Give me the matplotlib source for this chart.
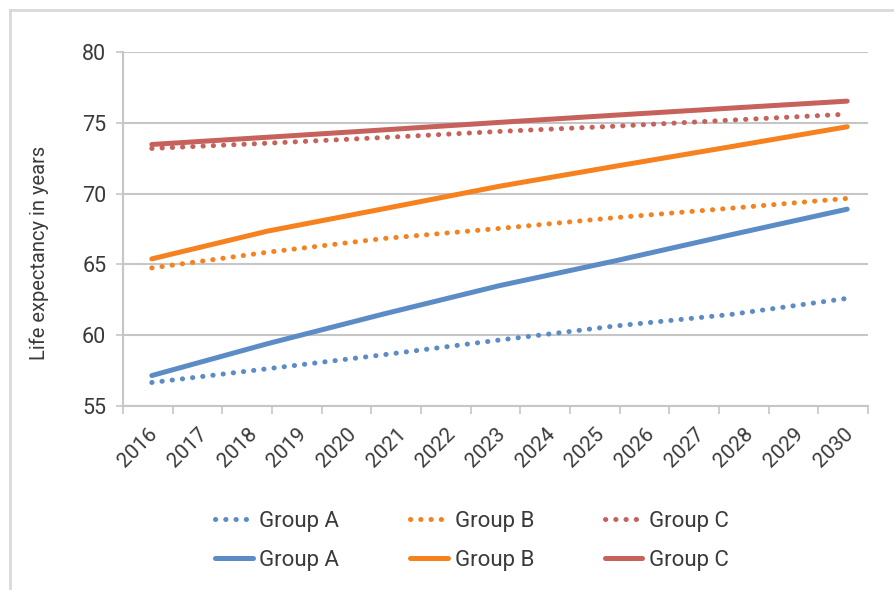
"""Life expectancy projections by group, solid vs dotted scenario lines."""

import matplotlib
matplotlib.use("Agg")
import matplotlib.pyplot as plt
from matplotlib.lines import Line2D

plt.rcParams["font.family"] = ["Roboto", "DejaVu Sans"]

# category labels on the x axis
years = [str(y) for y in range(2016, 2031)]

# the series are sampled at 7 evenly spaced points between 2016 and 2030
point_years = [2016.0, 2018.33, 2020.67, 2023.0, 2025.33, 2027.67, 2030.0]

a_dotted = [56.66, 57.63, 58.62, 59.66, 60.65, 61.47, 62.6]
b_dotted = [64.75, 65.86, 66.83, 67.54, 68.3, 68.97, 69.66]
c_dotted = [73.19, 73.56, 73.96, 74.39, 74.76, 75.19, 75.61]

a_solid = [57.15, 59.4, 61.5, 63.5, 65.25, 67.1, 68.9]
b_solid = [65.39, 67.35, 68.93, 70.52, 71.93, 73.32, 74.72]
c_solid = [73.47, 73.98, 74.5, 75.03, 75.54, 76.04, 76.53]

BLUE = "#5b8cc5"
ORANGE = "#f5821f"
RED = "#c6625b"
GRID = "#c6c6c6"
TEXT = "#3a3a3a"

fig = plt.figure(figsize=(8.94, 5.90), dpi=100)
ax = fig.add_axes([123 / 894, 1 - 406 / 590, 745 / 894, 354 / 590])

dot = dict(lw=3.6, ls=(0, (0.05, 2.0)), dash_capstyle="round")
sol = dict(lw=3.6, solid_capstyle="round")

h_ad, = ax.plot(point_years, a_dotted, color=BLUE, **dot)
h_bd, = ax.plot(point_years, b_dotted, color=ORANGE, **dot)
h_cd, = ax.plot(point_years, c_dotted, color=RED, **dot)
h_as, = ax.plot(point_years, a_solid, color=BLUE, **sol)
h_bs, = ax.plot(point_years, b_solid, color=ORANGE, **sol)
h_cs, = ax.plot(point_years, c_solid, color=RED, **sol)

# category axis: boundaries as tick marks, labels at the centres
cat_start = 2015.42
ax.set_xlim(cat_start, cat_start + len(years))
ax.set_xticks([cat_start + i for i in range(len(years) + 1)])
ax.set_xticklabels([])
ax.set_xticks([cat_start + 0.5 + i for i in range(len(years))], minor=True)
ax.set_xticklabels(years, minor=True, rotation=45, ha="right", va="top",
                   rotation_mode="anchor")
ax.tick_params(axis="x", which="major", length=6, width=1.2, color=GRID)
ax.tick_params(axis="x", which="minor", length=0, pad=13, labelsize=15,
               labelcolor=TEXT)

ax.set_ylim(55, 80)
ax.set_yticks([55, 60, 65, 70, 75, 80])
ax.tick_params(axis="y", length=5, width=1.2, color=GRID, pad=7,
               labelsize=15.5, labelcolor=TEXT)
ax.yaxis.grid(True, color=GRID, lw=1.5)
ax.set_axisbelow(True)

for side in ("top", "right"):
    ax.spines[side].set_visible(False)
for side in ("left", "bottom"):
    ax.spines[side].set_color(GRID)
    ax.spines[side].set_linewidth(1.5)

ax.set_ylabel("Life expectancy in years", fontsize=14.5, color=TEXT)
ax.yaxis.set_label_coords(-0.099, 0.432)

leg = fig.legend(
    [h_ad, h_as, h_bd, h_bs, h_cd, h_cs],
    ["Group A", "Group A", "Group B", "Group B", "Group C", "Group C"],
    ncol=3, loc="center", bbox_to_anchor=(472 / 894, 1 - 541 / 590),
    frameon=False, fontsize=16, handlelength=1.7, handletextpad=0.3,
    columnspacing=3.18, labelspacing=0.8, borderpad=0,
)
for t in leg.get_texts():
    t.set_color(TEXT)

# light outer frame (only top and left edges are visible in the crop)
fig.add_artist(Line2D([10 / 894, 1], [1 - 10 / 590, 1 - 10 / 590],
                      transform=fig.transFigure, color="#d9d9d9", lw=2))
fig.add_artist(Line2D([10 / 894, 10 / 894], [0, 1 - 10 / 590],
                      transform=fig.transFigure, color="#d9d9d9", lw=2))

fig.savefig("out.png", dpi=100)
